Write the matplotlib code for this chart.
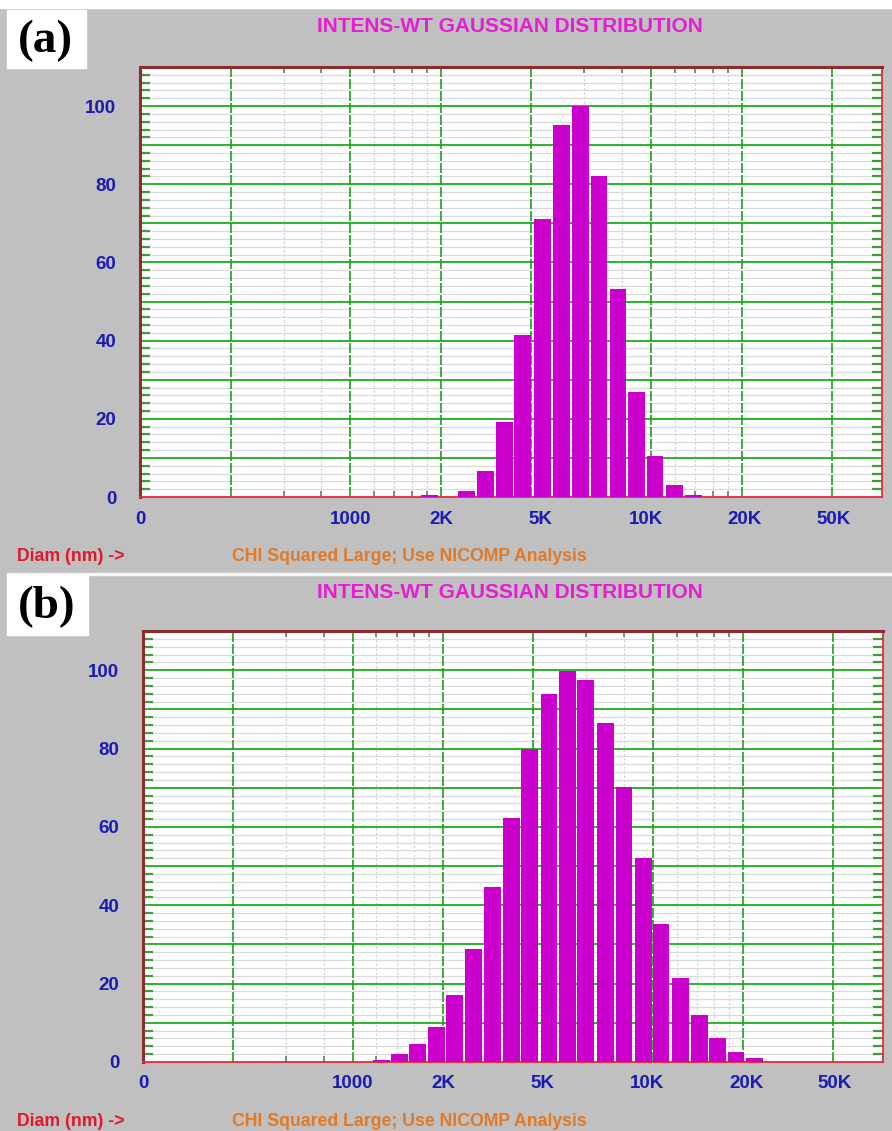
import numpy as np
import matplotlib
matplotlib.use('Agg')
import matplotlib.pyplot as plt
from matplotlib import font_manager, transforms
from matplotlib.ticker import FixedLocator, NullFormatter
from matplotlib.patches import Rectangle

# intensity-weighted distribution, values
diam_a = [1830, 2435, 2820, 3260, 3745, 4350, 5030, 5820, 6710, 7760, 8950, 10300, 11930, 13800]
intens_a = [0.5, 1.6, 6.7, 19.1, 41.4, 71.2, 95.1, 100.0, 82.1, 53.2, 26.9, 10.6, 3.1, 0.4]

diam_b = [1245, 1428, 1647, 1900, 2190, 2530, 2927, 3373, 3891, 4507, 5196,
          5965, 6936, 8023, 9284, 10656, 12364, 14276, 16473, 18922, 21884]
intens_b = [0.6, 2.0, 4.7, 9.0, 17.1, 28.8, 44.6, 62.4, 80.0, 93.8, 99.9,
            97.6, 86.4, 70.2, 52.0, 35.2, 21.5, 11.9, 6.0, 2.6, 1.0]

grid_major_x = [400, 1000, 2000, 4000, 10000, 20000, 40000]
grid_minor_x = [600, 800, 1200, 1400, 1600, 1800, 6000, 8000, 12000, 14000, 16000, 18000]
xtick_text = ['0', '1000', '2K', '5K', '10K', '20K', '50K']
xtick_at = [200, 1000, 2000, 4300, 9600, 20500, 40500]   # where the program prints them
ytick_vals = [0, 20, 40, 60, 80, 100]

TITLE = 'INTENS-WT GAUSSIAN DISTRIBUTION'
XNAME = 'Diam (nm) ->'
NOTE = 'CHI Squared Large; Use NICOMP Analysis'

W, H = 892, 1131
BAR_DEC = 0.056          # bar width in decades
MAGENTA = '#cc00cc'
BLUE = '#1c1cb0'


def have(name):
    try:
        font_manager.findfont(font_manager.FontProperties(family=name),
                              fallback_to_default=False)
        return True
    except ValueError:
        return False


if have('Liberation Sans Narrow'):
    NARROW, TSIZE, LSIZE, NSIZE = 'Liberation Sans Narrow', 17, 16, 15
else:
    NARROW, TSIZE, LSIZE, NSIZE = 'Liberation Sans', 15, 13.5, 12.7


def fx(x):
    return x / W


def fy(y):
    return 1 - y / H


fig = plt.figure(figsize=(W / 100, H / 100), dpi=100, facecolor='#c0c0c0')

# white border strip and the line between the two screenshots
fig.patches.append(Rectangle((0, fy(8)), 1, 8 / H, transform=fig.transFigure,
                             color='white', zorder=0))
fig.patches.append(Rectangle((fx(7), fy(575)), 1, 2 / H, transform=fig.transFigure,
                             color='#f4f4f4', zorder=0))


def panel(box, diam, intens, letter, letter_box, top):
    x0, y0, x1, y1 = box
    ax = fig.add_axes([fx(x0), fy(y1), (x1 - x0) / W, (y1 - y0) / H])
    ax.set_xscale('log')
    ax.set_xlim(200, 58500)
    ax.set_ylim(0, 110)
    ax.set_facecolor('white')

    for v in range(2, 110, 2):
        if v % 10:
            ax.axhline(v, color='#dadada', lw=0.9, zorder=0)
    for v in range(10, 110, 10):
        ax.axhline(v, color='#2db42d', lw=1.4, zorder=1)
    for v in grid_minor_x:
        ax.axvline(v, color='#d4d4d4', lw=0.9, ls=(0, (2, 1.5)), zorder=0)
    for v in grid_major_x:
        ax.axvline(v, color='#1e9e1e', lw=1.2, ls=(0, (6, 1.2)), zorder=1)

    c = np.array(diam, dtype=float)
    lo = c * 10 ** (-BAR_DEC / 2)
    hi = c * 10 ** (BAR_DEC / 2)
    ax.bar(lo, intens, width=hi - lo, align='edge', color=MAGENTA, zorder=3)

    # y axis: labels every 20, green inner ticks every 2
    ax.set_yticks(ytick_vals)
    ax.set_yticklabels([str(v) for v in ytick_vals])
    ax.yaxis.set_minor_locator(FixedLocator([v for v in range(2, 110, 2) if v % 10]))
    ax.tick_params(axis='y', which='major', length=0, pad=17, labelcolor=BLUE,
                   labelsize=LSIZE)
    ax.tick_params(axis='y', which='minor', direction='in', length=7, width=1.6,
                   color='#3a9e3a', left=True, right=True)
    for t in ax.get_yticklabels():
        t.set_fontfamily(NARROW)
        t.set_fontweight('bold')

    ax.xaxis.set_major_locator(FixedLocator(grid_major_x))
    ax.xaxis.set_major_formatter(NullFormatter())
    ax.xaxis.set_minor_locator(FixedLocator(grid_minor_x))
    ax.xaxis.set_minor_formatter(NullFormatter())
    ax.tick_params(axis='x', which='major', length=0)
    ax.tick_params(axis='x', which='minor', direction='in', length=4, width=1.2,
                   color='#4f8f4f', top=True, bottom=True)

    trans = transforms.blended_transform_factory(ax.transData, ax.transAxes)
    for pos, txt in zip(xtick_at, xtick_text):
        ax.text(pos, -22 / (y1 - y0), txt, transform=trans, ha='center', va='center',
                color=BLUE, fontsize=LSIZE, fontweight='bold', family=NARROW)

    for s in ('top', 'left'):
        ax.spines[s].set_color('#8c2c2c')
        ax.spines[s].set_linewidth(2.2)
    for s in ('right', 'bottom'):
        ax.spines[s].set_color('#e8283c')
        ax.spines[s].set_linewidth(1.3)

    fig.text(fx(510), fy(top + 27), TITLE, ha='center', va='center', color='#e61ed2',
             fontsize=TSIZE, fontweight='bold', family=NARROW)
    fig.text(fx(17), fy(y1 + 60), XNAME, ha='left', va='center', color='#e0182c',
             fontsize=NSIZE, fontweight='bold', family=NARROW)
    fig.text(fx(232), fy(y1 + 60), NOTE, ha='left', va='center', color='#e07a28',
             fontsize=NSIZE, fontweight='bold', family=NARROW)

    bx0, by0, bx1, by1 = letter_box
    fig.patches.append(Rectangle((fx(bx0), fy(by1)), (bx1 - bx0) / W, (by1 - by0) / H,
                                 transform=fig.transFigure, color='white', zorder=1))
    fig.text(fx((bx0 + bx1) / 2 - 1), fy((by0 + by1) / 2 + 2), letter, ha='center',
             va='center', fontsize=34, fontweight='bold', family='Liberation Serif',
             color='black', zorder=2)
    return ax


panel((140, 67, 882, 497), diam_a, intens_a, '(a)', (7, 10, 86, 68), 0)
panel((143, 631, 883, 1062), diam_b, intens_b, '(b)', (7, 575, 88, 635), 565)

fig.savefig('out.png', dpi=100, facecolor=fig.get_facecolor())
